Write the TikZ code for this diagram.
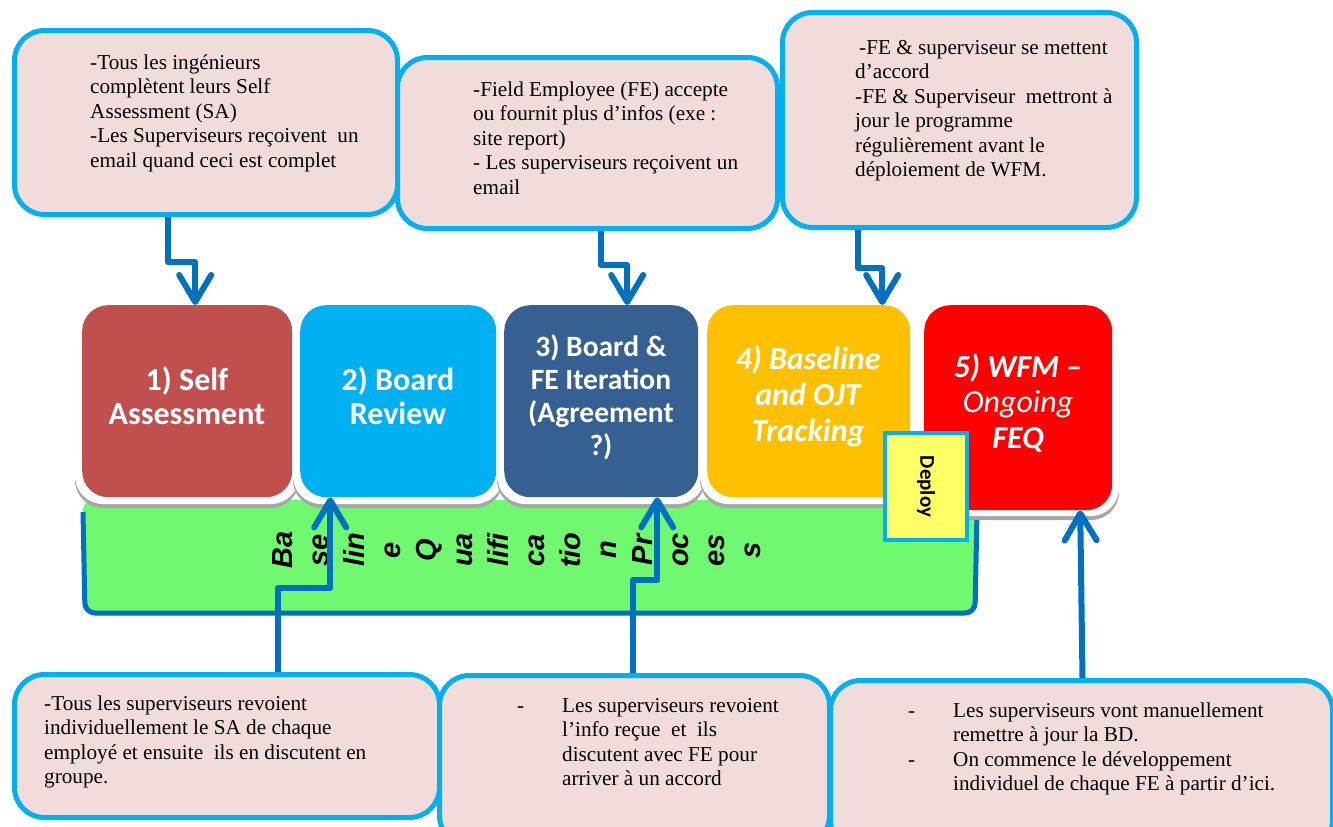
\documentclass[tikz,border=0pt]{standalone}
\usepackage{fontspec}
\setmainfont{Liberation Serif}
\newfontfamily\calib{Carlito}
\newfontfamily\arialf{Liberation Sans}
\usetikzlibrary{arrows.meta,calc}
\definecolor{calloutfill}{HTML}{F2DCDB}
\definecolor{calloutline}{HTML}{00B0F0}
\definecolor{linkblue}{HTML}{0070C0}
\definecolor{barfill}{HTML}{70F870}
\definecolor{stageA}{HTML}{C0504D}
\definecolor{stageB}{HTML}{00B0F0}
\definecolor{stageC}{HTML}{376092}
\definecolor{stageD}{HTML}{FFC000}
\definecolor{stageE}{HTML}{FF0000}
\definecolor{deployfill}{HTML}{FFFF66}
\definecolor{baseshade}{HTML}{A6A6A6}

\begin{document}
\begin{tikzpicture}[x=1pt,y=-1pt,
  callout/.style={draw=calloutline, line width=5pt, fill=calloutfill, rounded corners=30pt, inner sep=0pt, anchor=north west},
  ctext/.style={inner sep=0pt, anchor=north west, align=left, font=\fontsize{21.2}{24.5}\selectfont},
  stagebox/.style={rounded corners=26pt, inner sep=0pt, anchor=north west},
  stagelabel/.style={text=white, align=center, inner sep=0pt, font=\calib\bfseries\fontsize{32}{34}\selectfont},
  link/.style={draw=linkblue, line width=6pt, line join=round, -{Straight Barb[length=27pt, width=32pt, round]}},
]
\useasboundingbox (0,0) rectangle (1333,827);
\clip (0,0) rectangle (1333,827);

% green process band
\fill[barfill, rounded corners=10pt] (83,500) rectangle (977,613);
\draw[linkblue, line width=5pt, rounded corners=10pt] (83,512) -- (85,613) -- (975,613) -- (977,512);
\node[rotate=90, align=center, inner sep=0pt, font=\arialf\bfseries\itshape\fontsize{29}{36}\selectfont] (band)
  at (517,550) {Ba\\se\\lin\\e\\Q\\ua\\lifi\\ca\\tio\\n\\Pr\\oc\\es\\s};

% white plinths under the stage boxes
\foreach \xa/\xb/\yb in {75/299/504, 293/503/504, 497/705/504, 700/917/504, 917/1119/516} {
  \fill[baseshade, rounded corners=28pt] (\xa,334) rectangle (\xb,\yb+4);
  \fill[white, rounded corners=28pt] (\xa,330) rectangle (\xb,\yb);
}

% stage boxes
\node[stagebox, fill=stageA, minimum width=210pt, minimum height=192pt] (s1) at (82,305) {};
\node[stagebox, fill=stageB, minimum width=196pt, minimum height=192pt] (s2) at (300,305) {};
\node[stagebox, fill=stageC, minimum width=194pt, minimum height=192pt] (s3) at (504,305) {};
\node[stagebox, fill=stageD, minimum width=203pt, minimum height=192pt] (s4) at (707,305) {};
\node[stagebox, fill=stageE, minimum width=188pt, minimum height=205pt] (s5) at (924,305) {};

\node[stagelabel] (l1) at (187,396) {1) Self\\Assessment};
\node[stagelabel] (l2) at (398,396) {2) Board\\Review};
\node[stagelabel, font=\calib\bfseries\fontsize{29.5}{33}\selectfont] (l3) at (601,397) {3) Board \&\\FE Iteration\\(Agreement\\?)};
\node[stagelabel, font=\calib\bfseries\itshape\fontsize{32}{36}\selectfont] (l4) at (808,396) {4) Baseline\\and OJT\\Tracking};
\node[stagelabel, font=\calib\fontsize{32}{35.5}\selectfont] (l5) at (1018,403)
  {{\bfseries\itshape 5) WFM –}\\{\itshape Ongoing}\\{\bfseries\itshape FEQ}};

% deploy marker
\node[draw=calloutline, line width=4pt, fill=deployfill, minimum width=82pt, minimum height=107pt, anchor=north west, inner sep=0pt] (dep) at (883,431) {};
\node[rotate=-90, inner sep=0pt, font=\calib\bfseries\fontsize{21}{24}\selectfont] (deptext) at (dep.center) {Deploy};

% top callouts
\node[callout, minimum width=383pt, minimum height=184pt] (c1) at (12,28) {};
\node[callout, minimum width=380pt, minimum height=171pt] (c2) at (395,55) {};
\node[callout, minimum width=354pt, minimum height=215pt] (c3) at (780,10) {};

\node[ctext] (t1) at (90,52) {\strut-Tous les ingénieurs\\complètent leurs Self\\Assessment (SA)\\-Les Superviseurs reçoivent~ un\\email quand ceci est complet};
\node[ctext] (t2) at (473,79) {\strut-Field Employee (FE) accepte\\ou fournit plus d’infos (exe :\\site report)\\- Les superviseurs reçoivent un\\email};
\node[ctext] (t3) at (855,37) {\strut\hspace*{4pt}-FE \& superviseur se mettent\\d’accord\\-FE \& Superviseur~ mettront à\\jour le programme\\régulièrement avant le\\déploiement de WFM.};

% bottom callouts
\node[callout, minimum width=425pt, minimum height=143pt] (b1) at (12,672) {};
\node[callout, minimum width=390pt, minimum height=170pt] (b2) at (437,673) {};
\node[callout, minimum width=502pt, minimum height=170pt] (b3) at (828,678) {};

\node[ctext] (t4) at (44,693) {\strut-Tous les superviseurs revoient\\individuellement le SA de chaque\\employé et ensuite~ ils en discutent en\\groupe.};
\node[ctext] (t5) at (517,695) {\strut\makebox[45pt][l]{-}Les superviseurs revoient\\\hspace*{45pt}l’info reçue~ et~ ils\\\hspace*{45pt}discutent avec FE pour\\\hspace*{45pt}arriver à un accord};
\node[ctext] (t6) at (908,700) {\strut\makebox[45pt][l]{-}Les superviseurs vont manuellement\\\hspace*{45pt}remettre à jour la BD.\\\makebox[45pt][l]{-}On commence le développement\\\hspace*{45pt}individuel de chaque FE à partir d’ici.};

% connectors: callouts to stages
\draw[link] ([xshift=-38.5pt]c1.south) |- ([xshift=8pt,yshift=43pt]s1.north) -- ([xshift=8pt]s1.north);
\draw[link] ([xshift=13pt]c2.south) |- ([xshift=26pt,yshift=40pt]s3.north) -- ([xshift=26pt]s3.north);
\draw[link] ([xshift=-102pt]c3.south) |- ([xshift=73.5pt,yshift=37pt]s4.north) -- ([xshift=73.5pt]s4.north);

\draw[link] ([xshift=50.5pt]b1.north) |- ([xshift=-68pt,yshift=-91pt]s2.south) -- ([xshift=-68pt]s2.south);
\draw[link] ([xshift=-2pt]b2.north) |- ([xshift=56pt,yshift=-83pt]s3.south) -- ([xshift=56pt]s3.south);
\draw[link] ([xshift=1pt]b3.north) -- ([xshift=62pt]s5.south);
\end{tikzpicture}
\end{document}
